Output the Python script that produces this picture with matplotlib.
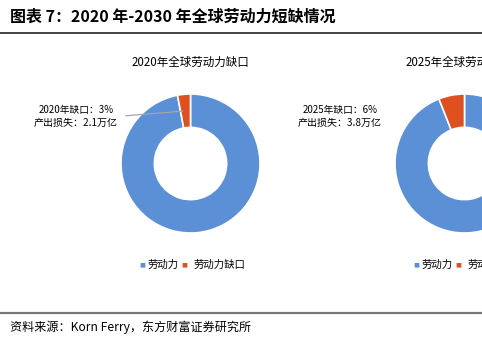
import numpy as np
import matplotlib.pyplot as plt

plt.rcParams['font.family'] = ['Noto Sans CJK SC', 'DejaVu Sans']

# Labour supply vs. shortfall shares (%)
years = ['2020', '2025']
labour = [97, 94]
gap = [3, 6]
output_loss = ['2.1', '3.8']
legend_labels = ['劳动力', '劳动力缺口']

blue = '#5b8fd6'
orange = '#df5020'

W, H = 482, 340
fig = plt.figure(figsize=(W / 100, H / 100), dpi=100)


def px(x, y):
    # pixel position from top-left -> figure fraction
    return x / W, 1 - y / H


# header and footer
fig.text(*px(10, 17), '图表 7：2020 年-2030 年全球劳动力短缺情况',
         fontsize=11.5, fontweight='bold', va='center', ha='left')
fig.add_artist(plt.Line2D([0, 1], [1 - 33 / H] * 2, color='#222222', lw=1.2))
fig.add_artist(plt.Line2D([0, 1], [1 - 313 / H] * 2, color='#777777', lw=1.6))
fig.text(*px(10, 327), '资料来源：Korn Ferry，东方财富证券研究所',
         fontsize=8.7, va='center', ha='left')

centers = [190.5, 464.5]
cy = 163.5
r = 69.5
note_x = [76, 340]

for i, year in enumerate(years):
    cx = centers[i]
    ax = fig.add_axes([(cx - r) / W, (H - cy - r) / H, 2 * r / W, 2 * r / H])
    ax.pie([labour[i], gap[i]], colors=[blue, orange], startangle=90,
           counterclock=False, radius=1,
           wedgeprops=dict(width=0.48, edgecolor='white', linewidth=1.2))
    ax.set_xlim(-1, 1)
    ax.set_ylim(-1, 1)
    ax.axis('off')

    fig.text(*px(cx, 62), f'{year}年全球劳动力缺口', fontsize=8.3,
             ha='center', va='center')
    fig.text(*px(note_x[i], 110), f'{year}年缺口：{gap[i]}%', fontsize=7,
             ha='center', va='center')
    fig.text(*px(note_x[i], 123), f'产出损失：{output_loss[i]}万亿', fontsize=7.2,
             ha='center', va='center')

    if i == 0:
        # leader line from the note to the gap slice
        ang = np.deg2rad(90 + gap[i] / 2 / 100 * 360)
        ax.annotate('', xy=(0.76 * np.cos(ang), 0.76 * np.sin(ang)),
                    xytext=(123, H - 116), textcoords='figure pixels',
                    arrowprops=dict(arrowstyle='-', color='#a6a6a6', lw=0.9),
                    annotation_clip=False)

    # legend row
    lx = cx - 48
    fig.text(*px(lx, 265), '■', color=blue, fontsize=4.5, ha='center', va='center',
             family='DejaVu Sans')
    fig.text(*px(lx + 5, 265), legend_labels[0], fontsize=7.5, ha='left', va='center')
    fig.text(*px(lx + 42, 265), '■', color=orange, fontsize=4.5, ha='center',
             va='center', family='DejaVu Sans')
    fig.text(*px(lx + 51, 265), legend_labels[1], fontsize=7.5, ha='left', va='center')

fig.savefig('out.png', dpi=100)
